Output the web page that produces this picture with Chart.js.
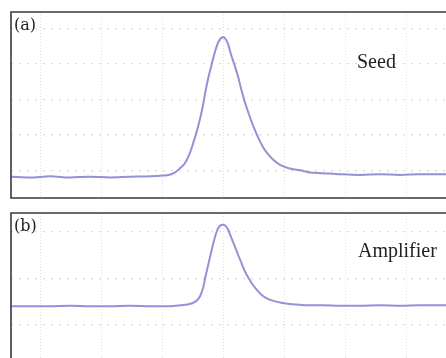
<!DOCTYPE html>
<html>
  <head>
    <title>Seed / Amplifier pulse</title>
    <script src="https://cdn.jsdelivr.net/npm/chart.js"></script>
    <style>
      body {
        margin: 0;
        background: #fff;
        width: 446px;
        height: 358px;
        overflow: hidden;
        position: relative;
      }

      .panel {
        position: absolute;
        left: 0;
      }
    </style>
  </head>
  <body>
    <div class="panel" style="top: 0; width: 446px; height: 210px">
      <canvas id="chartA"></canvas>
    </div>
    <div class="panel" style="top: 200px; width: 446px; height: 158px">
      <canvas id="chartB"></canvas>
    </div>

    <script>
      // time axis in screen divisions, 0 = pulse peak
      const time = [
        -3.49, -3.18, -2.85, -2.52, -2.2, -1.87, -1.54, -1.21, -1.05, -0.93,
        -0.8, -0.72, -0.64, -0.56, -0.51, -0.44, -0.39, -0.34, -0.3, -0.25,
        -0.2, -0.15, -0.1, -0.05, -0.02, 0.02, 0.07, 0.11, 0.18, 0.23,
        0.28, 0.34, 0.41, 0.48, 0.56, 0.64, 0.72, 0.8, 0.92, 1.08,
        1.25, 1.41, 1.62, 1.9, 2.23, 2.56, 2.89, 3.21, 3.64,
      ];

      // (a) seed pulse, vertical divisions
      const seed = [
        0.82, 0.8, 0.83, 0.8, 0.82, 0.8, 0.82, 0.83, 0.85, 0.86,
        0.94, 1.06, 1.2, 1.48, 1.73, 2.13, 2.46, 2.86, 3.25, 3.65,
        3.99, 4.32, 4.58, 4.72, 4.75, 4.72, 4.55, 4.3, 3.93, 3.65,
        3.31, 2.94, 2.58, 2.25, 1.93, 1.66, 1.46, 1.31, 1.15, 1.05,
        1.0, 0.94, 0.92, 0.89, 0.87, 0.89, 0.87, 0.89, 0.89,
      ];

      // (b) amplifier output, vertical divisions
      const amplifier = [
        2.4, 2.4, 2.4, 2.41, 2.4, 2.4, 2.41, 2.4, 2.4, 2.4,
        2.41, 2.42, 2.43, 2.45, 2.47, 2.53, 2.62, 2.8, 3.05, 3.33,
        3.61, 3.87, 4.06, 4.14, 4.15, 4.13, 4.04, 3.91, 3.68, 3.51,
        3.35, 3.16, 2.99, 2.85, 2.72, 2.62, 2.56, 2.52, 2.48, 2.45,
        2.43, 2.42, 2.42, 2.41, 2.41, 2.42, 2.41, 2.42, 2.42,
      ];

      const xGrid = [-3, -2, -1, 0, 1, 2, 3];
      const yGridA = [1, 2, 3, 4, 5];
      const yGridB = [2, 3, 4];

      const panelA = { tag: '(a)', name: 'Seed' };
      const panelB = { tag: '(b)', name: 'Amplifier' };

      const frameLabels = {
        id: 'frameLabels',
        afterDraw(chart, args, opts) {
          const { ctx, chartArea } = chart;
          ctx.save();
          ctx.strokeStyle = '#3a3a3a';
          ctx.lineWidth = 1.6;
          ctx.beginPath();
          if (opts.bottom) {
            ctx.moveTo(chartArea.right + 2, chartArea.bottom);
            ctx.lineTo(chartArea.left, chartArea.bottom);
          } else {
            ctx.moveTo(chartArea.left, chartArea.bottom + 2);
          }
          ctx.lineTo(chartArea.left, chartArea.top);
          ctx.lineTo(chartArea.right + 2, chartArea.top);
          ctx.stroke();

          ctx.fillStyle = '#222';
          ctx.textBaseline = 'alphabetic';
          ctx.font = '16px "DejaVu Serif"';
          ctx.fillText(opts.tag, chartArea.left + 3, chartArea.top + 18);
          ctx.font = '20px "Liberation Serif"';
          ctx.fillText(opts.name, opts.nameX, opts.nameY);
          ctx.restore();
        },
      };

      function makeChart(id, values, yMin, yMax, yGrid, pad, labels) {
        return new Chart(document.getElementById(id), {
          type: 'line',
          data: {
            datasets: [
              {
                data: time.map((t, i) => ({ x: t, y: values[i] })),
                borderColor: 'rgba(110, 110, 200, 0.75)',
                borderWidth: 2,
                pointRadius: 0,
                cubicInterpolationMode: 'monotone',
                fill: false,
              },
            ],
          },
          options: {
            responsive: true,
            maintainAspectRatio: false,
            animation: false,
            layout: { padding: pad },
            plugins: {
              legend: { display: false },
              tooltip: { enabled: false },
              frameLabels: labels,
            },
            scales: {
              x: {
                type: 'linear',
                min: -3.49,
                max: 3.64,
                afterBuildTicks: (s) => {
                  s.ticks = xGrid.map((v) => ({ value: v }));
                },
                ticks: { display: false },
                grid: { color: '#e2e2e2', drawTicks: false, lineWidth: 1 },
                border: { display: false, dash: [1, 2] },
              },
              y: {
                min: yMin,
                max: yMax,
                afterBuildTicks: (s) => {
                  s.ticks = yGrid.map((v) => ({ value: v }));
                },
                ticks: { display: false },
                grid: { color: '#dadada', drawTicks: false, lineWidth: 1.2 },
                border: { display: false, dash: [2, 6] },
              },
            },
          },
          plugins: [frameLabels],
        });
      }

      makeChart('chartA', seed, 0.22, 5.46, yGridA,
        { left: 11, top: 12, right: 0, bottom: 12 },
        { ...panelA, nameX: 357, nameY: 68, bottom: true });

      makeChart('chartB', amplifier, 1.29, 4.4, yGridB,
        { left: 11, top: 13, right: 0, bottom: 0 },
        { ...panelB, nameX: 358, nameY: 57, bottom: false });
    </script>
  </body>
</html>
